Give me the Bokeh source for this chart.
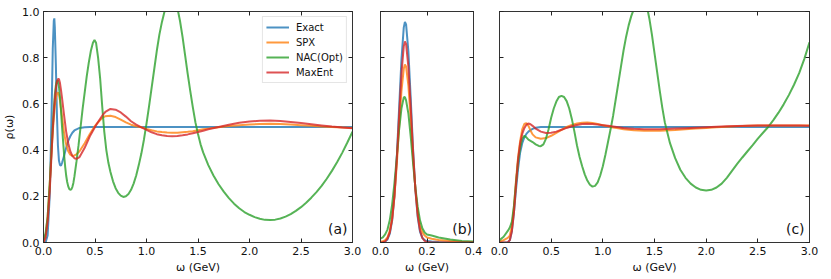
from bokeh.plotting import figure
from bokeh.layouts import row
from bokeh.models import (Range1d, LinearAxis, FixedTicker, PrintfTickFormatter, Label,
                          CustomLabelingPolicy)
from bokeh.embed import file_html
from bokeh.resources import INLINE

# ---------------- data ----------------
series_names = ["Exact", "SPX", "NAC(Opt)", "MaxEnt"]
series_colors = ["#1f77b4", "#ff7f0e", "#2ca02c", "#d62728"]

x_ticks_wide = [0.0, 0.5, 1.0, 1.5, 2.0, 2.5, 3.0]
x_ticks_narrow = [0.0, 0.2, 0.4]
y_ticks = [0.0, 0.2, 0.4, 0.6, 0.8, 1.0]
panel_tags = ["(a)", "(b)", "(c)"]

# panel (a)
omega_a = [0, 0.02, 0.04, 0.06, 0.07, 0.08, 0.09, 0.10, 0.105, 0.11, 0.12, 0.13, 0.14, 0.15,
           0.16, 0.17, 0.18, 0.20, 0.22, 0.24, 0.26, 0.28, 0.30, 0.32, 0.35, 0.40, 0.45,
           0.50, 0.52, 0.55, 0.58, 0.60, 0.65, 0.70, 0.75, 0.80, 0.85, 0.90, 0.95, 1.00,
           1.05, 1.10, 1.15, 1.20, 1.25, 1.30, 1.35, 1.40, 1.45, 1.50, 1.55, 1.60, 1.70,
           1.80, 1.90, 2.00, 2.10, 2.20, 2.30, 2.40, 2.50, 2.60, 2.70, 2.80, 2.90, 3.00]
exact_a = [0.0, 0.0, 0.03, 0.2, 0.38, 0.6, 0.84, 0.96, 0.97, 0.93, 0.77, 0.56, 0.42, 0.355,
           0.335, 0.333, 0.345, 0.375, 0.41, 0.44, 0.46, 0.475, 0.485, 0.49, 0.496, 0.499, 0.5,
           0.5, 0.5, 0.5, 0.5, 0.5, 0.5, 0.5, 0.5, 0.5, 0.5, 0.5, 0.5, 0.5,
           0.5, 0.5, 0.5, 0.5, 0.5, 0.5, 0.5, 0.5, 0.5, 0.5, 0.5, 0.5, 0.5,
           0.5, 0.5, 0.5, 0.5, 0.5, 0.5, 0.5, 0.5, 0.5, 0.5, 0.5, 0.5, 0.5]
spx_a = [0.0, 0.03, 0.11, 0.25, 0.33, 0.41, 0.48, 0.54, 0.565, 0.59, 0.625, 0.645, 0.65, 0.64,
         0.615, 0.58, 0.545, 0.475, 0.425, 0.395, 0.38, 0.375, 0.377, 0.382, 0.395, 0.43, 0.47,
         0.505, 0.515, 0.53, 0.542, 0.547, 0.549, 0.543, 0.532, 0.52, 0.51, 0.503, 0.499, 0.492,
         0.486, 0.481, 0.478, 0.476, 0.475, 0.475, 0.477, 0.479, 0.482, 0.486, 0.49, 0.493, 0.499,
         0.504, 0.508, 0.511, 0.513, 0.514, 0.513, 0.511, 0.508, 0.505, 0.502, 0.5, 0.498, 0.496]
maxent_a = [0.0, 0.02, 0.09, 0.22, 0.31, 0.40, 0.49, 0.56, 0.59, 0.62, 0.665, 0.695, 0.708, 0.708,
            0.69, 0.66, 0.625, 0.55, 0.48, 0.43, 0.395, 0.375, 0.365, 0.362, 0.37, 0.41, 0.46,
            0.50, 0.515, 0.535, 0.555, 0.565, 0.578, 0.575, 0.563, 0.545, 0.525, 0.51, 0.498, 0.488,
            0.477, 0.469, 0.464, 0.461, 0.46, 0.461, 0.464, 0.468, 0.473, 0.478, 0.484, 0.49, 0.5,
            0.51, 0.518, 0.524, 0.527, 0.528, 0.526, 0.522, 0.517, 0.512, 0.507, 0.502, 0.498, 0.495]
omega_a_nac = [0, 0.02, 0.04, 0.06, 0.07, 0.08, 0.09, 0.10, 0.11, 0.12, 0.13, 0.14, 0.15, 0.16,
               0.17, 0.18, 0.19, 0.20, 0.21, 0.22, 0.23, 0.24, 0.25, 0.26, 0.27, 0.28, 0.29, 0.30,
               0.32, 0.34, 0.36, 0.38, 0.40, 0.42, 0.44, 0.46, 0.48, 0.495, 0.51, 0.53, 0.55, 0.57,
               0.59, 0.61, 0.63, 0.65, 0.675, 0.70, 0.725, 0.75, 0.775, 0.80, 0.825, 0.85, 0.875,
               0.90, 0.925, 0.95, 0.975, 1.00, 1.025, 1.05, 1.075, 1.10, 1.125, 1.15, 1.175, 1.20,
               1.225, 1.25, 1.275, 1.30, 1.325, 1.35, 1.375, 1.40, 1.425, 1.45, 1.475, 1.50, 1.525,
               1.55, 1.60, 1.65, 1.70, 1.75, 1.80, 1.85, 1.90, 1.95, 2.00, 2.05, 2.10, 2.15, 2.20,
               2.25, 2.30, 2.35, 2.40, 2.45, 2.50, 2.55, 2.60, 2.65, 2.70, 2.75, 2.80, 2.85, 2.90,
               2.95, 3.00]
nac_a = [0.01, 0.04, 0.11, 0.25, 0.33, 0.42, 0.50, 0.58, 0.64, 0.68, 0.70, 0.70, 0.675, 0.63,
         0.57, 0.50, 0.44, 0.38, 0.33, 0.29, 0.262, 0.243, 0.232, 0.228, 0.23, 0.24, 0.258, 0.285,
         0.35, 0.42, 0.50, 0.58, 0.65, 0.72, 0.78, 0.83, 0.865, 0.877, 0.865, 0.80, 0.71, 0.59,
         0.48, 0.40, 0.345, 0.305, 0.265, 0.235, 0.215, 0.203, 0.197, 0.20, 0.21, 0.228, 0.255,
         0.29, 0.335, 0.385, 0.445, 0.515, 0.59, 0.67, 0.75, 0.83, 0.90, 0.955, 1.0, 1.035,
         1.055, 1.06, 1.05, 1.015, 0.96, 0.89, 0.81, 0.73, 0.655, 0.585, 0.52, 0.47, 0.425,
         0.39, 0.335, 0.29, 0.252, 0.22, 0.192, 0.168, 0.148, 0.132, 0.12, 0.11, 0.103, 0.098, 0.097,
         0.099, 0.104, 0.112, 0.123, 0.137, 0.153, 0.172, 0.194, 0.218, 0.245, 0.276, 0.31, 0.347, 0.388,
         0.433, 0.48]

# panel (b)
omega_b = [0, 0.01, 0.02, 0.03, 0.04, 0.05, 0.06, 0.07, 0.08, 0.09, 0.10, 0.105, 0.11, 0.12,
           0.13, 0.14, 0.15, 0.16, 0.17, 0.18, 0.19, 0.20, 0.22, 0.25, 0.30, 0.35, 0.40]
exact_b = [0.0, 0.0, 0.004, 0.013, 0.038, 0.094, 0.2, 0.366, 0.58, 0.79, 0.93, 0.955, 0.944, 0.826,
           0.624, 0.406, 0.228, 0.11, 0.046, 0.02, 0.01, 0.006, 0.004, 0.002, 0.001, 0.0, 0.0]
spx_b = [0.003, 0.005, 0.01, 0.022, 0.05, 0.104, 0.2, 0.337, 0.5, 0.654, 0.752, 0.77, 0.762, 0.679,
         0.534, 0.368, 0.234, 0.132, 0.07, 0.045, 0.03, 0.022, 0.016, 0.011, 0.006, 0.003, 0.002]
nac_b = [0.017, 0.022, 0.035, 0.056, 0.097, 0.164, 0.257, 0.37, 0.488, 0.58, 0.628, 0.63, 0.615, 0.558,
         0.458, 0.344, 0.238, 0.154, 0.096, 0.062, 0.043, 0.035, 0.03, 0.022, 0.013, 0.007, 0.004]
maxent_b = [0.0, 0.001, 0.005, 0.017, 0.044, 0.101, 0.204, 0.358, 0.547, 0.73, 0.849, 0.87, 0.86, 0.76,
            0.586, 0.394, 0.231, 0.118, 0.052, 0.02, 0.007, 0.002, 0.0, 0.0, 0.0, 0.0, 0.0]

# panel (c)
omega_c = [0, 0.04, 0.08, 0.10, 0.12, 0.14, 0.16, 0.18, 0.20, 0.22, 0.24, 0.26, 0.28, 0.30,
           0.32, 0.35, 0.40, 0.45, 0.50, 0.55, 0.60, 0.65, 0.70, 0.75, 0.80, 0.85, 0.90, 0.95,
           1.00, 1.05, 1.10, 1.15, 1.20, 1.25, 1.30, 1.35, 1.40, 1.45, 1.50, 1.55, 1.60, 1.70,
           1.80, 1.90, 2.00, 2.10, 2.20, 2.30, 2.40, 2.50, 2.60, 2.70, 2.80, 2.90, 3.00]
exact_c = [0.0, 0.0, 0.0, 0.01, 0.05, 0.13, 0.23, 0.32, 0.39, 0.43, 0.455, 0.47, 0.48, 0.487,
           0.492, 0.497, 0.5, 0.5, 0.5, 0.5, 0.5, 0.5, 0.5, 0.5, 0.5, 0.5, 0.5, 0.5,
           0.5, 0.5, 0.5, 0.5, 0.5, 0.5, 0.5, 0.5, 0.5, 0.5, 0.5, 0.5, 0.5, 0.5,
           0.5, 0.5, 0.5, 0.5, 0.5, 0.5, 0.5, 0.5, 0.5, 0.5, 0.5, 0.5, 0.5]
spx_c = [0.005, 0.01, 0.02, 0.03, 0.07, 0.15, 0.27, 0.37, 0.44, 0.49, 0.513, 0.517, 0.505, 0.485,
         0.468, 0.455, 0.449, 0.452, 0.462, 0.475, 0.488, 0.5, 0.509, 0.515, 0.518, 0.519, 0.517, 0.513,
         0.508, 0.503, 0.498, 0.494, 0.49, 0.488, 0.486, 0.485, 0.484, 0.484, 0.484, 0.484, 0.485, 0.487,
         0.49, 0.493, 0.496, 0.499, 0.501, 0.503, 0.505, 0.506, 0.507, 0.507, 0.507, 0.507, 0.507]
maxent_c = [0.0, 0.0, 0.0, 0.01, 0.05, 0.13, 0.25, 0.36, 0.43, 0.47, 0.495, 0.51, 0.515, 0.512,
            0.505, 0.493, 0.48, 0.474, 0.475, 0.48, 0.488, 0.496, 0.503, 0.509, 0.513, 0.514, 0.513, 0.511,
            0.508, 0.505, 0.502, 0.499, 0.496, 0.494, 0.492, 0.491, 0.49, 0.49, 0.49, 0.49, 0.491, 0.493,
            0.495, 0.497, 0.499, 0.501, 0.503, 0.504, 0.505, 0.506, 0.506, 0.506, 0.506, 0.506, 0.505]
omega_c_nac = [0, 0.04, 0.08, 0.10, 0.12, 0.14, 0.16, 0.18, 0.20, 0.22, 0.24, 0.26, 0.28, 0.30,
               0.32, 0.35, 0.38, 0.40, 0.425, 0.45, 0.475, 0.50, 0.525, 0.55, 0.575, 0.60, 0.625,
               0.65, 0.675, 0.70, 0.725, 0.75, 0.775, 0.80, 0.825, 0.85, 0.875, 0.90, 0.925, 0.95,
               0.975, 1.00, 1.025, 1.05, 1.075, 1.10, 1.125, 1.15, 1.175, 1.20, 1.225, 1.25, 1.275,
               1.30, 1.325, 1.35, 1.375, 1.40, 1.425, 1.45, 1.475, 1.50, 1.525, 1.55, 1.575, 1.60,
               1.65, 1.70, 1.75, 1.80, 1.85, 1.90, 1.95, 2.00, 2.05, 2.10, 2.15, 2.20, 2.25, 2.30,
               2.35, 2.40, 2.45, 2.50, 2.55, 2.60, 2.65, 2.70, 2.75, 2.80, 2.85, 2.90, 2.95, 3.00]
nac_c = [0.01, 0.025, 0.05, 0.065, 0.09, 0.16, 0.26, 0.35, 0.41, 0.45, 0.462, 0.455, 0.445, 0.44,
         0.435, 0.425, 0.418, 0.417, 0.425, 0.45, 0.49, 0.54, 0.58, 0.61, 0.63, 0.635, 0.63,
         0.612, 0.58, 0.535, 0.48, 0.42, 0.37, 0.33, 0.295, 0.268, 0.25, 0.242, 0.245, 0.26,
         0.29, 0.33, 0.38, 0.435, 0.49, 0.55, 0.62, 0.69, 0.76, 0.83, 0.89, 0.94, 0.98,
         1.01, 1.04, 1.06, 1.065, 1.055, 1.025, 0.97, 0.90, 0.82, 0.74, 0.66, 0.585, 0.52,
         0.43, 0.365, 0.315, 0.28, 0.255, 0.238, 0.228, 0.225, 0.228, 0.238, 0.255, 0.28, 0.31, 0.34,
         0.368, 0.395, 0.422, 0.45, 0.475, 0.50, 0.53, 0.562, 0.598, 0.638, 0.683, 0.733, 0.795, 0.867]

# ---------------- styling helpers ----------------
FONT = "DejaVu Sans"
TEXT_COLOR = "#111111"
HIDE_LABELS = "const ids = [...indices]; for (const i of ids) { indices.unset(i) } return indices"


def style_axis(ax, ticks, show_labels, label=None):
    ax.ticker = FixedTicker(ticks=ticks)
    ax.formatter = PrintfTickFormatter(format="%.1f")
    ax.major_tick_in = 4
    ax.major_tick_out = 0
    ax.minor_tick_in = 0
    ax.minor_tick_out = 0
    ax.major_tick_line_color = "#222222"
    ax.axis_line_color = "#333333"
    ax.major_label_text_font = FONT
    ax.major_label_text_color = TEXT_COLOR
    ax.major_label_text_font_size = "11px"
    ax.major_label_standoff = 4
    if not show_labels:
        ax.major_label_policy = CustomLabelingPolicy(code=HIDE_LABELS)
        ax.major_label_text_font_size = "0px"
        ax.major_label_standoff = 0
    if label is not None:
        ax.axis_label = label
        ax.axis_label_text_font = FONT
        ax.axis_label_text_font_size = "11px"
        ax.axis_label_text_font_style = "normal"
        ax.axis_label_text_color = TEXT_COLOR
        ax.axis_label_standoff = 3


def make_panel(xs_list, ys_list, xmax, xticks, tag, fw, bl, br, show_ylabels, legend):
    p = figure(frame_width=fw, frame_height=231, output_backend="svg", toolbar_location=None,
               x_range=Range1d(0, xmax), y_range=Range1d(0, 1),
               min_border_left=bl, min_border_right=br, min_border_top=11, min_border_bottom=31,
               x_axis_location=None, y_axis_location=None)
    p.grid.visible = False
    p.outline_line_color = "#333333"
    p.outline_line_width = 1
    p.background_fill_color = "white"
    p.border_fill_color = "white"

    bottom = LinearAxis()
    style_axis(bottom, xticks, True, "ω (GeV)")
    p.add_layout(bottom, "below")
    top = LinearAxis()
    style_axis(top, xticks, False)
    p.add_layout(top, "above")
    left = LinearAxis()
    style_axis(left, y_ticks, show_ylabels, "ρ(ω)" if show_ylabels else None)
    p.add_layout(left, "left")
    right = LinearAxis()
    style_axis(right, y_ticks, False)
    p.add_layout(right, "right")

    for name, color, xs, ys in zip(series_names, series_colors, xs_list, ys_list):
        if legend:
            p.line(xs, ys, line_color=color, line_width=2, line_alpha=0.8, legend_label=name)
        else:
            p.line(xs, ys, line_color=color, line_width=2, line_alpha=0.8)

    p.add_layout(Label(x=xmax * 0.984, y=0.025, text=tag, text_align="right", text_baseline="bottom",
                       text_font=FONT, text_font_size="14px", text_color=TEXT_COLOR))

    if legend:
        lg = p.legend[0]
        lg.location = "top_right"
        lg.margin = 5
        lg.padding = 3
        lg.spacing = 1
        lg.label_text_font = FONT
        lg.label_text_font_size = "10px"
        lg.label_text_color = TEXT_COLOR
        lg.label_standoff = 7
        lg.glyph_width = 23
        lg.glyph_height = 14
        lg.label_height = 14
        lg.border_line_color = "#cccccc"
        lg.border_line_width = 1
        lg.background_fill_alpha = 0.8
    return p


pa = make_panel([omega_a, omega_a, omega_a_nac, omega_a], [exact_a, spx_a, nac_a, maxent_a],
                3.0, x_ticks_wide, panel_tags[0], 309, 40, 14, True, True)
pb = make_panel([omega_b] * 4, [exact_b, spx_b, nac_b, maxent_b],
                0.4, x_ticks_narrow, panel_tags[1], 93, 14, 12, False, False)
pc = make_panel([omega_c, omega_c, omega_c_nac, omega_c], [exact_c, spx_c, nac_c, maxent_c],
                3.0, x_ticks_wide, panel_tags[2], 310, 14, 10, False, False)

layout = row(pa, pb, pc, spacing=0)

open("out.html", "w").write(file_html(layout, INLINE))
